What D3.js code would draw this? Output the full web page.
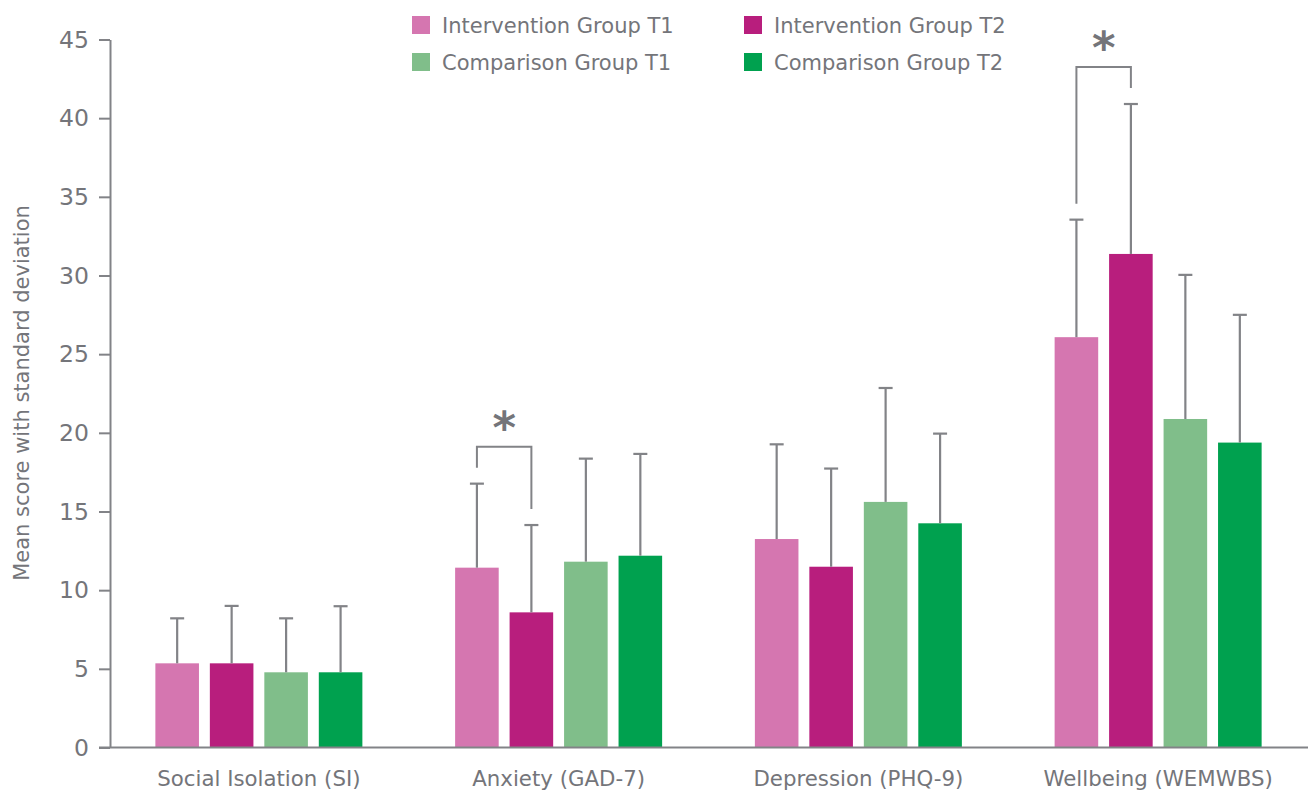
<!DOCTYPE html>
<html>
<head>
<meta charset="utf-8">
<script src="https://cdn.jsdelivr.net/npm/d3@7"></script>
<style>
  html, body { margin: 0; padding: 0; background: #ffffff; }
  svg { display: block; }
  text { font-family: "DejaVu Sans", sans-serif; fill: #74757a; }
</style>
</head>
<body>
<svg id="chart" width="1310" height="791"></svg>
<script>
// Outcome measures on the x axis
const categories = ["Social Isolation (SI)", "Anxiety (GAD-7)", "Depression (PHQ-9)", "Wellbeing (WEMWBS)"];

// Groups / time points
const seriesNames = ["Intervention Group T1", "Intervention Group T2", "Comparison Group T1", "Comparison Group T2"];
const seriesColors = ["#d576b0", "#b81e7d", "#80be8a", "#00a14f"];

// Mean scores per group, one value per measure
const interventionT1Mean = [5.35, 11.43, 13.25, 26.08];
const interventionT2Mean = [5.35, 8.59, 11.49, 31.37];
const comparisonT1Mean   = [4.78, 11.81, 15.61, 20.88];
const comparisonT2Mean   = [4.78, 12.19, 14.25, 19.38];

// Standard deviations per group, one value per measure
const interventionT1Sd = [2.86, 5.34, 6.02, 7.47];
const interventionT2Sd = [3.65, 5.55, 6.24, 9.53];
const comparisonT1Sd   = [3.43, 6.55, 7.24, 9.16];
const comparisonT2Sd   = [4.20, 6.47, 5.70, 8.12];

// Y axis ticks
const yTicks = [0, 5, 10, 15, 20, 25, 30, 35, 40, 45];

// Significant T1 vs T2 differences (measure, two series)
const significance = [
  { category: "Anxiety (GAD-7)", from: 0, to: 1, label: "*" },
  { category: "Wellbeing (WEMWBS)", from: 0, to: 1, label: "*" }
];

const means = [interventionT1Mean, interventionT2Mean, comparisonT1Mean, comparisonT2Mean];
const sds = [interventionT1Sd, interventionT2Sd, comparisonT1Sd, comparisonT2Sd];

const rows = [];
categories.forEach((c, ci) => {
  seriesNames.forEach((s, si) => {
    rows.push({ category: c, series: s, si, mean: means[si][ci], sd: sds[si][ci] });
  });
});

const svg = d3.select("#chart");
const gray = "#828387";

const y = d3.scaleLinear().domain([0, 45]).range([747.5, 39.5]);
const x0 = d3.scaleBand().domain(categories).range([109, 1308]).paddingInner(0).paddingOuter(0);
const x1 = d3.scaleBand().domain(seriesNames).range([-103.5, 103.5]).paddingInner(0.2).paddingOuter(0);
const color = d3.scaleOrdinal().domain(seriesNames).range(seriesColors);

const barX = d => x0(d.category) + x0.bandwidth() / 2 + x1(d.series);
const barMid = d => barX(d) + x1.bandwidth() / 2;

// Y axis
const yAxis = svg.append("g")
  .attr("transform", "translate(110,0)")
  .call(d3.axisLeft(y).tickValues(yTicks).tickSize(11).tickPadding(10).tickSizeOuter(0));
yAxis.select(".domain").attr("stroke", gray).attr("stroke-width", 2);
yAxis.selectAll(".tick line").attr("stroke", gray).attr("stroke-width", 2);
yAxis.selectAll(".tick text")
  .attr("font-size", 23.5)
  .attr("font-family", "DejaVu Sans, sans-serif")
  .attr("fill", "#74757a");

// Y axis title
svg.append("text")
  .attr("transform", "translate(29,393) rotate(-90)")
  .attr("text-anchor", "middle")
  .attr("font-size", 21)
  .text("Mean score with standard deviation");

// Bars
svg.append("g").selectAll("rect")
  .data(rows)
  .join("rect")
  .attr("x", barX)
  .attr("y", d => y(d.mean))
  .attr("width", x1.bandwidth())
  .attr("height", d => y(0) - y(d.mean))
  .attr("fill", d => color(d.series));

// Error bars (upper half: mean + SD)
const capHalf = 7;
const err = svg.append("g").attr("stroke", gray).attr("stroke-width", 2.2).attr("fill", "none");
err.selectAll("line.stem")
  .data(rows)
  .join("line")
  .attr("class", "stem")
  .attr("x1", barMid).attr("x2", barMid)
  .attr("y1", d => y(d.mean))
  .attr("y2", d => y(d.mean + d.sd));
err.selectAll("line.cap")
  .data(rows)
  .join("line")
  .attr("class", "cap")
  .attr("x1", d => barMid(d) - capHalf).attr("x2", d => barMid(d) + capHalf)
  .attr("y1", d => y(d.mean + d.sd))
  .attr("y2", d => y(d.mean + d.sd));

// X axis baseline
svg.append("line")
  .attr("x1", 99).attr("x2", 1308)
  .attr("y1", y(0)).attr("y2", y(0))
  .attr("stroke", gray).attr("stroke-width", 2);

// Category labels
svg.append("g").selectAll("text")
  .data(categories)
  .join("text")
  .attr("x", d => x0(d) + x0.bandwidth() / 2)
  .attr("y", 786)
  .attr("text-anchor", "middle")
  .attr("font-size", 21.3)
  .text(d => d);

// Significance brackets
const brackets = svg.append("g");
significance.forEach(s => {
  const a = rows.find(r => r.category === s.category && r.si === s.from);
  const b = rows.find(r => r.category === s.category && r.si === s.to);
  const ya = y(a.mean + a.sd), yb = y(b.mean + b.sd);
  const top = Math.min(ya, yb) - 37;
  const xa = barMid(a), xb = barMid(b);
  brackets.append("path")
    .attr("d", `M${xa},${ya - 16} V${top} H${xb} V${yb - 16}`)
    .attr("fill", "none")
    .attr("stroke", gray)
    .attr("stroke-width", 2);
  brackets.append("text")
    .attr("x", (xa + xb) / 2)
    .attr("y", top - 4)
    .attr("text-anchor", "middle")
    .attr("font-size", 45)
    .attr("font-weight", "bold")
    .text(s.label);
});

// Legend
const legend = svg.append("g");
const legendPos = [
  { x: 412, y: 16 }, { x: 744, y: 16 },
  { x: 412, y: 53 }, { x: 744, y: 53 }
];
seriesNames.forEach((s, i) => {
  const p = legendPos[i];
  legend.append("rect")
    .attr("x", p.x).attr("y", p.y)
    .attr("width", 18).attr("height", 18)
    .attr("fill", color(s));
  legend.append("text")
    .attr("x", p.x + 30)
    .attr("y", p.y + 17)
    .attr("font-size", 21)
    .text(s);
});
</script>
</body>
</html>
